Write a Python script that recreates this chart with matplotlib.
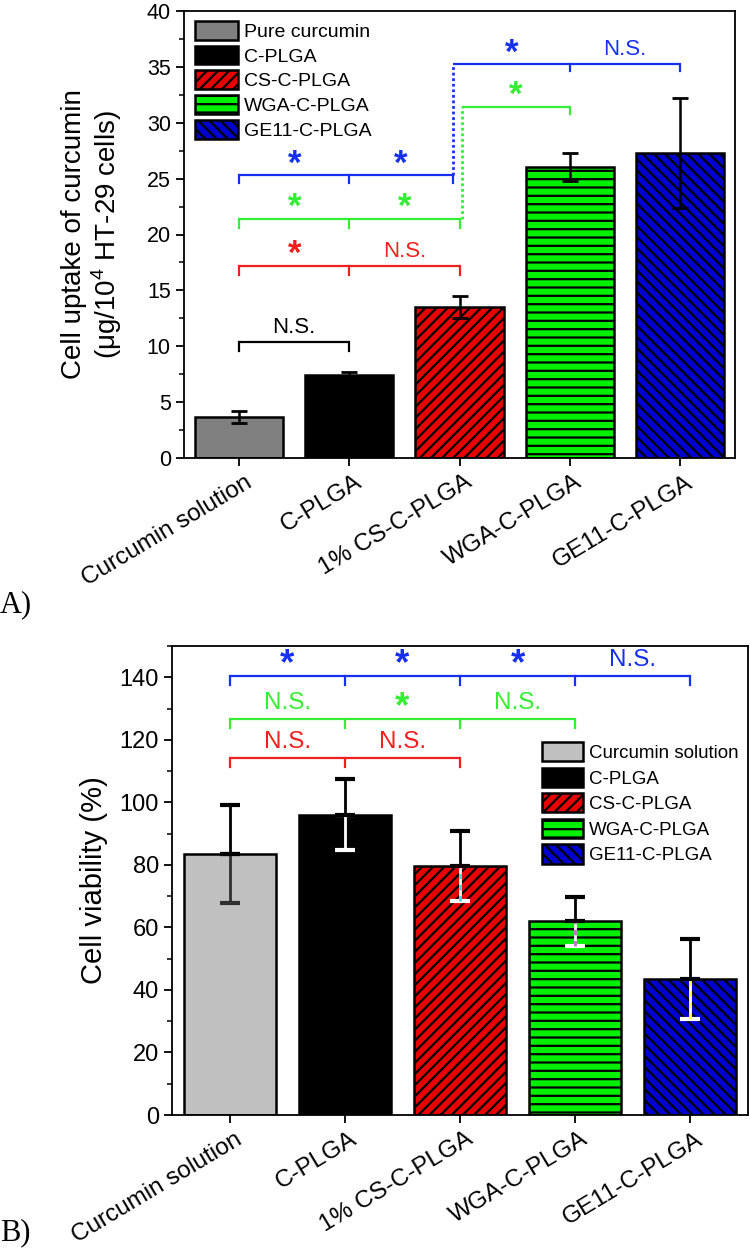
import matplotlib
matplotlib.use("Agg")
import matplotlib.pyplot as plt
from matplotlib.ticker import MultipleLocator
from matplotlib.transforms import ScaledTranslation

plt.rcParams['font.family'] = ['Liberation Sans', 'DejaVu Sans']
plt.rcParams['mathtext.fontset'] = 'custom'
plt.rcParams['mathtext.rm'] = 'Liberation Sans'
plt.rcParams['hatch.linewidth'] = 1.6

# ---- data ----
categories = ['Curcumin solution', 'C-PLGA', '1% CS-C-PLGA', 'WGA-C-PLGA', 'GE11-C-PLGA']
legend_a = ['Pure curcumin', 'C-PLGA', 'CS-C-PLGA', 'WGA-C-PLGA', 'GE11-C-PLGA']
legend_b = ['Curcumin solution', 'C-PLGA', 'CS-C-PLGA', 'WGA-C-PLGA', 'GE11-C-PLGA']

uptake = [3.7, 7.4, 13.5, 26.0, 27.3]
uptake_err = [0.55, 0.3, 1.0, 1.25, 4.9]

viability = [83.5, 96.0, 79.6, 62.0, 43.5]
viability_err = [15.8, 11.4, 11.2, 7.8, 12.7]

# significance brackets: (x positions, line y, tick drop, colour, labels, tick at first x)
BLUE, GREEN, RED = '#1530f0', '#33ee33', '#f02020'
brackets_a = [
    ([0, 1], 10.4, 0.8, 'black', ['N.S.'], True),
    ([0, 1, 2], 17.2, 0.8, RED, ['*', 'N.S.'], True),
    ([0, 1, 2], 21.4, 0.8, GREEN, ['*', '*'], True),
    ([0, 1, 1.94], 25.3, 0.7, BLUE, ['*', '*'], True),
    ([2.02, 3], 31.45, 0.7, GREEN, ['*'], False),
    ([1.94, 3, 4], 35.25, 0.6, BLUE, ['*', 'N.S.'], False),
]
# dotted connectors (x, y from, y to, colour)
connectors_a = [
    (1.94, 25.3, 35.25, BLUE),
    (2.02, 21.4, 31.45, GREEN),
]
brackets_b = [
    ([0, 1, 2, 3, 4], 140.4, 3.0, BLUE, ['*', '*', '*', 'N.S.'], True),
    ([0, 1, 2, 3], 126.7, 3.0, GREEN, ['N.S.', '*', 'N.S.'], True),
    ([0, 1, 2], 114.3, 3.0, RED, ['N.S.', 'N.S.'], True),
]

fills_a = ['#808080', 'black', '#e60000', '#00f000', '#0000d0']
fills_b = ['#c0c0c0', 'black', '#e60000', '#00f000', '#0000d0']
hatches = [None, None, '///', '--', '\\\\\\']
lower_err_colors = ['#303030', 'white', '#40d8e0', '#c070c0', '#ffff40']


def draw_brackets(ax, brackets, text_off, star_off, fs):
    for xs, y, drop, color, labels, first_tick in brackets:
        ax.plot([xs[0], xs[-1]], [y, y], color=color, lw=1.6, solid_capstyle='butt')
        for j, x in enumerate(xs):
            if j == 0 and not first_tick:
                continue
            ax.plot([x, x], [y, y - drop], color=color, lw=1.6)
        for j, lab in enumerate(labels):
            xm = (xs[j] + xs[j + 1]) / 2
            if lab == '*':
                ax.text(xm, y + star_off, lab, color=color, ha='center', va='center',
                        fontsize=fs + 9, fontweight='bold')
            else:
                ax.text(xm, y + text_off, lab, color=color, ha='center', va='center',
                        fontsize=fs)


def style_axes(ax, fs):
    for sp in ax.spines.values():
        sp.set_linewidth(1.3)
    ax.tick_params(axis='y', which='major', direction='out', length=6, width=1.3,
                   labelsize=fs, right=False)
    ax.tick_params(axis='y', which='minor', direction='out', length=3.5, width=1.1, right=False)
    ax.tick_params(axis='x', which='major', direction='out', length=6, width=1.3, top=False)
    x = list(range(len(categories)))
    ax.set_xticks(x)
    ax.set_xticklabels(categories, rotation=31, ha='right', va='top',
                       rotation_mode='anchor', fontsize=17.5)
    shift = ScaledTranslation(0.05, 0.0, ax.figure.dpi_scale_trans)
    for lab in ax.get_xticklabels():
        lab.set_transform(lab.get_transform() + shift)
    ax.set_xlim(-0.5, 4.5)


fig = plt.figure(figsize=(7.5, 12.53), dpi=100)
W, H = 750, 1253

# ---------------- panel A ----------------
axA = fig.add_axes([184 / W, 1 - 458 / H, (735 - 184) / W, (458 - 11) / H])
xs = list(range(len(categories)))
barsA = axA.bar(xs, uptake, width=0.8, color=fills_a, edgecolor='black', linewidth=1.8)
for b, h in zip(barsA, hatches):
    if h:
        b.set_hatch(h)
axA.errorbar(xs, uptake, yerr=uptake_err, fmt='none', ecolor='black', elinewidth=1.8,
             capsize=6, capthick=2)
axA.set_ylim(0, 40)
axA.yaxis.set_major_locator(MultipleLocator(5))
axA.yaxis.set_minor_locator(MultipleLocator(2.5))
style_axes(axA, 15.5)
axA.set_ylabel('Cell uptake of curcumin\n(μg/10$^{4}$ HT-29 cells)', fontsize=20,
               linespacing=1.1, labelpad=16)
draw_brackets(axA, brackets_a, 1.3, 1.0, 16)
for x, y0, y1, c in connectors_a:
    axA.plot([x, x], [y0, y1], color=c, lw=2, linestyle=(0, (1, 1)))
axA.legend(barsA, legend_a, loc='upper left', bbox_to_anchor=(0.02, 0.978), frameon=False,
           fontsize=14, handlelength=2.2, handleheight=1.1, labelspacing=0.25,
           handletextpad=0.3, borderpad=0, borderaxespad=0)
fig.text(0.0, 1 - 605 / H, 'A)', fontsize=22, family='Liberation Serif', va='center')

# ---------------- panel B ----------------
axB = fig.add_axes([172 / W, 1 - 1115 / H, (748 - 172) / W, (1115 - 646) / H])
barsB = axB.bar(xs, viability, width=0.8, color=fills_b, edgecolor='black', linewidth=1.8)
for b, h in zip(barsB, hatches):
    if h:
        b.set_hatch(h)
for i in xs:
    c = lower_err_colors[i]
    dashed = i >= 2
    base = 'white' if dashed else c
    axB.errorbar([i], [viability[i]], yerr=[[viability_err[i]], [0]], fmt='none',
                 ecolor=base, elinewidth=2, capsize=7, capthick=3)
    if dashed:
        cont = axB.errorbar([i], [viability[i]], yerr=[[viability_err[i]], [0]], fmt='none',
                            ecolor=c, elinewidth=2, capsize=0)
        cont[2][0].set_linestyle((0, (2, 2)))
    axB.errorbar([i], [viability[i]], yerr=[[0], [viability_err[i]]], fmt='none',
                 ecolor='black', elinewidth=2, capsize=7, capthick=3)
axB.set_ylim(0, 150)
axB.yaxis.set_major_locator(MultipleLocator(20))
axB.yaxis.set_minor_locator(MultipleLocator(10))
style_axes(axB, 17)
axB.set_ylabel('Cell viability (%)', fontsize=21, labelpad=8)
draw_brackets(axB, brackets_b, 5.0, 3.5, 17.5)
axB.legend(barsB, legend_b, loc='upper left', bbox_to_anchor=(0.642, 0.795), frameon=False,
           fontsize=13.5, handlelength=2.2, handleheight=1.2, labelspacing=0.3,
           handletextpad=0.3, borderpad=0, borderaxespad=0)
fig.text(0.0, 1 - 1233 / H, 'B)', fontsize=22, family='Liberation Serif', va='center')

fig.savefig('out.png', dpi=100)
